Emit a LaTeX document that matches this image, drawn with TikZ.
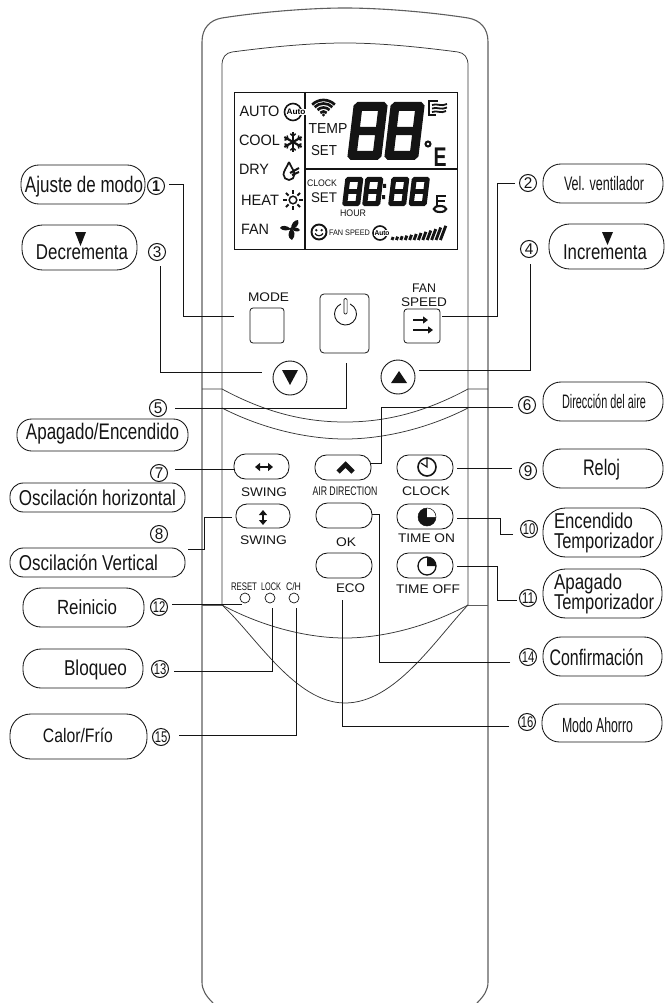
\documentclass[tikz,border=0pt]{standalone}
\usepackage{fontspec}
\setmainfont{Liberation Sans}
\usetikzlibrary{arrows.meta}
\definecolor{ink}{HTML}{141414}
\definecolor{shell}{HTML}{5E5E5E}
\newcommand\tw[3]{\resizebox{#2pt}{\height}{\fontsize{#1pt}{#1pt}\selectfont #3}}
\newcommand\lab[6]{\node[txt] (#1) at (#2,#3) {\tw{#4}{#5}{#6}};}
\newcommand\pill[5]{\pgfmathsetmacro\cx{(#2+#4)/2}\pgfmathsetmacro\cy{(#3+#5)/2}\pgfmathsetmacro\pw{#4-#2}\pgfmathsetmacro\ph{#5-#3}\pgfmathsetmacro\pr{\ph*0.46}\node[pill,minimum width=\pw pt,minimum height=\ph pt,rounded corners=\pr pt] (#1) at (\cx,\cy) {};}
\newcommand\segdigit[6]{\begin{scope}[shift={(#1,#2)},xslant=.12]
\pgfmathsetmacro\mi{#4/2}
\fill[ink,even odd rule] (#6,0)--(#3-#6,0)--(#3,#6)--(#3,#4-#6)--(#3-#6,#4)--(#6,#4)--(0,#4-#6)--(0,#6)--cycle
 (#5,#5)--(#3-#5,#5)--(#3-#5,\mi-#5*.45)--(#5,\mi-#5*.45)--cycle
 (#5,\mi+#5*.45)--(#3-#5,\mi+#5*.45)--(#3-#5,#4-#5)--(#5,#4-#5)--cycle;
\end{scope}}
\newcommand\autoicon[7]{\begin{scope}[shift={(#1,#2)},y=1pt]
\draw[ink,line width=1.6pt] (0,0) circle[radius=#3pt];
\node[fill=white,inner sep=0.2pt] (#5) at (#4,0) {\tw{#7}{#6}{\bfseries Auto}};
\end{scope}}
\tikzset{
 shellline/.style={draw=shell,line width=1.1pt},
 thinshell/.style={draw=ink!85,line width=0.75pt},
 wire/.style={draw=ink,line width=0.85pt},
 txt/.style={anchor=base,inner sep=0pt,outer sep=0pt,text=ink},
 pill/.style={draw=ink,line width=0.85pt,inner sep=0pt,outer sep=0pt,rectangle},
 numc/.style={draw=ink,circle,line width=1pt,minimum size=17pt,inner sep=0pt,outer sep=0pt,text=ink},
 keybtn/.style={draw=ink,line width=0.8pt,rounded corners=3pt,inner sep=0pt,outer sep=0pt,rectangle},
 roundbtn/.style={draw=ink,line width=0.9pt,circle,minimum size=34pt,inner sep=0pt,outer sep=0pt},
 led/.style={draw=ink,line width=0.7pt,circle,minimum size=10pt,inner sep=0pt,outer sep=0pt},
 lcd/.style={draw=ink,line width=0.9pt},
 solidtri/.style={fill=ink,draw=none},
}
\begin{document}
\begin{tikzpicture}[x=1pt,y=-1pt]
\useasboundingbox (0,0) rectangle (671,1003);
% --- body
\draw[shellline] (213,1003) .. controls (206,996) and (202,990) .. (202,982) -- (202,42)
 .. controls (202,28) and (210,20) .. (222,18) .. controls (260,12) and (310,8) .. (345,8)
 .. controls (380,8) and (430,12) .. (468,18) .. controls (480,20) and (488,28) .. (488,42)
 -- (488,982) .. controls (488,990) and (484,996) .. (477,1003);
\draw[thinshell] (222,605) -- (222,65) .. controls (222,57) and (226,53) .. (232,52)
 .. controls (270,47) and (310,43) .. (345,43) .. controls (380,43) and (420,47) .. (458,52)
 .. controls (464,53) and (468,57) .. (468,65) -- (468,605);
\draw[thinshell] (202,389) -- (222,389) .. controls (270,415) and (310,422) .. (345,422)
 .. controls (380,422) and (420,415) .. (468,389) -- (488,389);
\draw[thinshell] (222,408) .. controls (265,430) and (310,439) .. (345,439)
 .. controls (380,439) and (425,430) .. (468,408);
\draw[shellline] (202,605.5) -- (222,605.5) (468,605.5) -- (488,605.5);
\draw[thinshell] (222,605) .. controls (265,628) and (310,638) .. (345,638)
 .. controls (380,638) and (425,628) .. (468,605);
\draw[thinshell] (222,605) .. controls (255,635) and (295,703) .. (345,703)
 .. controls (395,703) and (435,640) .. (468,605);
% --- LCD
\draw[lcd] (234,92) rectangle (457,249);
\draw[lcd,line width=1.3pt] (305,92) -- (305,249) (305,169) -- (457,169);
\lab{tAuto}{259.5}{117}{15}{40}{AUTO}
\lab{tCool}{259.5}{146}{15}{41}{COOL}
\lab{tDry}{254}{175}{15}{30}{DRY}
\lab{tHeat}{260}{205}{15}{38}{HEAT}
\lab{tFan}{255}{234}{15}{28}{FAN}
\lab{tTemp}{328}{134}{14.5}{39}{TEMP}
\lab{tSet}{324}{156}{14.5}{26}{SET}
\lab{tSetb}{324}{203}{14}{26}{SET}
\lab{tClockb}{322}{186}{9.5}{30}{CLOCK}
\lab{tHour}{353}{216}{9.5}{26}{HOUR}
\lab{tFanSp}{349.5}{235}{8}{41}{FAN SPEED}
\lab{tE}{440}{167}{27}{13}{\bfseries E}
\segdigit{354}{102}{34}{58}{9}{3.5}
\segdigit{391}{102}{34}{58}{9}{3.5}
\draw[ink,line width=2pt] (428,144) circle[radius=2.5pt];
\segdigit{345.5}{177}{18}{29}{5}{2}
\segdigit{365.5}{177}{18}{29}{5}{2}
\fill[ink] (383,184) rectangle (386,188) (382,195) rectangle (385,199);
\segdigit{391.5}{177}{18}{29}{5}{2}
\segdigit{412}{177}{18}{29}{5}{2}
% wifi
\begin{scope}[shift={(323.5,116)},y=1pt]
\foreach \r in {4.5,8.5,12.5,16}{\draw[ink,line width=2.7pt] (45:\r) arc[start angle=45,end angle=135,radius=\r pt];}
\fill[ink] (0,1) circle[radius=1.6pt];
\end{scope}
% top-right icon
\draw[ink,line width=1.5pt] (438,101) -- (429,101) -- (429,115) -- (436,115);
\draw[ink,line width=1.8pt] (432,105) .. controls (437,103) and (441,107) .. (447,104)
 (432,108.5) .. controls (437,106.5) and (441,110.5) .. (447,107.5)
 (432,112) .. controls (437,110) and (441,114) .. (446,111);
% auto icons
\autoicon{293}{112}{8.5}{3}{iAuto}{19}{8}
\autoicon{380}{233}{7}{2}{iAutob}{15}{7}
% snowflake
\begin{scope}[shift={(293,142)},y=1pt]
\foreach \a in {30,90,...,330}{
 \draw[ink,line width=2.2pt] (0,0) -- (\a:10);
 \draw[ink,line width=1.5pt] (\a:6) -- ++(\a+50:3.5) (\a:6) -- ++(\a-50:3.5);
}
\end{scope}
% drop
\begin{scope}[shift={(289,174)},y=1pt]
\draw[ink,line width=1.7pt] (0,12) .. controls (-2,7) and (-5.5,3) .. (-5.5,-0.5)
 arc[start angle=180,end angle=360,radius=5.5pt] .. controls (5.5,3) and (2,7) .. (0,12);
\draw[ink,line width=2pt] (1,1) -- (10,6) (3,-1) -- (10,2);
\end{scope}
% sun
\begin{scope}[shift={(293,200)},y=1pt]
\draw[ink,line width=1.5pt] (0,0) circle[radius=3.8pt];
\foreach \a in {0,45,...,315}{\draw[ink,line width=1.8pt] (\a:6.2) -- (\a:10);}
\end{scope}
% fan
\begin{scope}[shift={(291,229)},y=1pt]
\fill[ink] (0,0) .. controls (0,5) and (3,9) .. (7,9) .. controls (9,5) and (5,0) .. (0,0);
\fill[ink] (0,0) .. controls (-4,4) and (-10,4) .. (-11,1) .. controls (-9,-2) and (-3,-2) .. (0,0);
\fill[ink] (0,0) .. controls (4,-1) and (5,-7) .. (1,-11) .. controls (-4,-9) and (-3,-3) .. (0,0);
\fill[ink] (0,0) .. controls (3,2) and (7,2) .. (9,-1) .. controls (7,-4) and (3,-2) .. (0,0);
\fill[ink] (0,0) circle[radius=1.6pt];
\end{scope}
% smiley
\begin{scope}[shift={(319,232)},y=1pt]
\draw[ink,line width=1.9pt] (0,0) circle[radius=7.5pt];
\fill[ink] (-2.7,1.8) circle[radius=1.3pt] (2.7,1.8) circle[radius=1.3pt];
\draw[ink,line width=1.2pt] (-4,-1.5) .. controls (-2,-4.5) and (2,-4.5) .. (4,-1.5);
\end{scope}
% speed bars
\foreach \i in {0,...,11}{
 \pgfmathsetmacro\bx{392+4.4*\i}\pgfmathsetmacro\bh{3+0.07*\i*\i+0.25*\i}
 \draw[ink,line width=2.9pt] (\bx,240) -- ({\bx+0.38*\bh},{240-\bh});
}
% key
\draw[ink,line width=2.1pt] (440,209) ellipse[x radius=6.2pt,y radius=3pt];
\draw[ink,line width=2.2pt] (437,195) -- (437,206) (437,196) -- (446,196) (437,201) -- (445,201);
% --- buttons
\lab{tMode}{268.5}{301}{12.5}{41}{MODE}
\node[keybtn,minimum width=34pt,minimum height=35pt] (bmode) at (267,325.5) {};
\node[keybtn,rounded corners=4pt,minimum width=49pt,minimum height=59pt] (bpower) at (344.5,323.5) {};
\begin{scope}[shift={(345.5,314)},y=1pt]
\draw[ink,line width=0.9pt] (65:11) arc[start angle=65,end angle=-245,radius=11pt];
\draw[ink,line width=0.7pt,fill=white,rounded corners=1.3pt] (-1.6,15.5) rectangle (1.6,0);
\end{scope}
\lab{tFanw}{424}{292}{12.5}{24}{FAN}
\lab{tSpeed}{424}{306}{12.5}{46}{SPEED}
\node[keybtn,minimum width=36pt,minimum height=34pt] (bfan) at (422,326) {};
\draw[ink,line width=2.2pt,-{Triangle[length=5pt,width=7pt]}] (413,320) -- (428,320);
\draw[ink,line width=2.2pt,-{Triangle[length=5pt,width=7pt]}] (413,330) -- (433,330);
\node[roundbtn] (bdown) at (290,378) {};
\node[roundbtn] (bup) at (398,377) {};
\fill[solidtri] (282,370) -- (298,370) -- (290,385) -- cycle;
\fill[solidtri] (391,383) -- (407,383) -- (399,371) -- cycle;
% pills of the keypad
\pill{bswingh}{234}{454}{289}{479}
\pill{bswingv}{236}{504}{290}{528}
\pill{bair}{315}{455}{371}{480}
\pill{bok}{316}{503}{372}{528}
\pill{beco}{316}{553}{372}{578}
\pill{bclock}{397}{455}{453}{480}
\pill{bton}{397}{504}{453}{529}
\pill{btoff}{397}{553}{453}{578}
\draw[ink,line width=2.6pt,{Triangle[length=5pt,width=8pt]}-{Triangle[length=5pt,width=8pt]}] (255,467) -- (273,467);
\draw[ink,line width=2.6pt,{Triangle[length=5pt,width=8pt]}-{Triangle[length=5pt,width=8pt]}] (263,510) -- (263,525);
\draw[ink,line width=4.6pt,line cap=butt,line join=miter] (338,472) -- (345.5,464.5) -- (353,472);
% clock
\begin{scope}[shift={(427,467)},y=1pt]
\draw[ink,line width=1.6pt] (0,0) circle[radius=9pt];
\draw[ink,line width=1.2pt] (0,8) -- (0,0) -- (-6,4);
\end{scope}
\begin{scope}[shift={(427,517)},y=1pt]
\fill[ink] (0,0) circle[radius=9pt];
\fill[white] (0,0) -- (9.2,0) arc[start angle=0,end angle=90,radius=9.2pt] -- cycle;
\draw[ink,line width=0.5pt] (0,0) circle[radius=9pt];
\end{scope}
\begin{scope}[shift={(427,566)},y=1pt]
\draw[ink,line width=1.3pt] (0,0) circle[radius=9pt];
\fill[ink] (0,0) -- (9,0) arc[start angle=0,end angle=90,radius=9pt] -- cycle;
\end{scope}
\lab{tSwinga}{264}{496}{12.5}{46}{SWING}
\lab{tSwingb}{263.5}{544}{12.5}{47}{SWING}
\lab{tAir}{345}{495}{12.5}{65}{AIR DIRECTION}
\lab{tOk}{346}{546}{12.5}{20}{OK}
\lab{tEco}{350.5}{592}{12.5}{29}{ECO}
\lab{tClock}{426}{495}{12.5}{48}{CLOCK}
\lab{tTon}{426.5}{542}{12.5}{57}{TIME ON}
\lab{tToff}{428}{593}{12.5}{64}{TIME OFF}
\lab{tRst}{244}{590}{11}{26}{RESET}
\lab{tLock}{271}{590}{11}{20}{LOCK}
\lab{tCh}{293.5}{590}{11}{15}{C/H}
\node[led] (brst) at (245,598) {};
\node[led] (block) at (270,598) {};
\node[led] (bch) at (294,598) {};
% --- label pills
\pill{pA}{21}{165}{145}{204}
\lab{lA}{84}{192}{22.5}{118}{Ajuste de modo}
\pill{pD}{22}{225}{137}{270}
\lab{lD}{82}{259}{21.5}{92}{Decrementa}
\fill[solidtri] (75,232) -- (86,232) -- (80.5,246) -- cycle;
\pill{pV}{543}{164}{663}{203}
\lab{lV}{604}{190}{19.5}{80}{Vel. ventilador}
\pill{pI}{549}{224}{664}{269}
\lab{lI}{605}{259}{21.5}{84}{Incrementa}
\fill[solidtri] (602,232) -- (613,232) -- (607.5,245) -- cycle;
\pill{pDa}{543}{382}{663}{421}
\lab{lDa}{604}{408}{19.5}{84}{Dirección del aire}
\pill{pAe}{17}{419}{188}{451}
\lab{lAe}{102.5}{439}{22.5}{153}{Apagado/Encendido}
\pill{pOh}{10}{483}{185}{512}
\lab{lOh}{97.5}{505}{21.5}{157}{Oscilación horizontal}
\pill{pOv}{10}{548}{185}{577}
\lab{lOv}{88.5}{570}{21.5}{139}{Oscilación Vertical}
\pill{pRe}{23}{588}{144}{627}
\lab{lRe}{87}{614}{20.5}{60}{Reinicio}
\pill{pBl}{23}{649}{143}{688}
\lab{lBl}{95.5}{675}{21.5}{63}{Bloqueo}
\pill{pCa}{10}{714}{147}{759}
\lab{lCa}{78}{742}{19.5}{70}{Calor/Frío}
\pill{pRl}{543}{449}{663}{488}
\lab{lRl}{601.5}{475}{22.5}{37}{Reloj}
\pill{pEn}{543}{508}{662}{557}
\lab{lEna}{593.5}{528}{21.5}{79}{Encendido}
\lab{lEnb}{604}{548}{21.5}{100}{Temporizador}
\pill{pAp}{543}{569}{662}{618}
\lab{lApa}{588}{589}{21.5}{68}{Apagado}
\lab{lApb}{604}{609}{21.5}{100}{Temporizador}
\pill{pCo}{543}{637}{662}{676}
\lab{lCo}{596.5}{665}{22.5}{94}{Confirmación}
\pill{pMo}{542}{704}{662}{742}
\lab{lMo}{597.5}{732}{20.5}{71}{Modo Ahorro}
% --- circled numbers
\node[numc] (n1) at (156,186) {\tw{15.5}{8}{\bfseries 1}};
\node[numc] (n2) at (528,183) {\tw{15.5}{8.5}{2}};
\node[numc] (n3) at (157,252) {\tw{15.5}{8.5}{3}};
\node[numc] (n4) at (529,249) {\tw{15.5}{8.5}{4}};
\node[numc] (n5) at (158,408) {\tw{15.5}{8.5}{5}};
\node[numc] (n6) at (527,405) {\tw{15.5}{8.5}{6}};
\node[numc] (n7) at (159,473) {\tw{15.5}{8.5}{7}};
\node[numc] (n8) at (159,534) {\tw{15.5}{8.5}{8}};
\node[numc] (n9) at (528,471) {\tw{15.5}{8.5}{9}};
\node[numc] (n10) at (529,529) {\tw{15.5}{12.5}{10}};
\node[numc] (n11) at (528,598) {\tw{15.5}{12.5}{11}};
\node[numc] (n12) at (159,607) {\tw{15.5}{12.5}{12}};
\node[numc] (n13) at (160,669) {\tw{15.5}{12.5}{13}};
\node[numc] (n14) at (528,657) {\tw{15.5}{12.5}{14}};
\node[numc] (n15) at (161,737) {\tw{15.5}{12.5}{15}};
\node[numc] (n16) at (527,722) {\tw{15.5}{12.5}{16}};
% --- connectors
\draw[wire] ([xshift=4.5pt,yshift=2pt]n1.east) -- (183,184) -- (183,316) -- ([xshift=-16pt,yshift=9.5pt]bmode.west);
\draw[wire] ([xshift=3pt,yshift=-5.5pt]n3.south) -- (160,372) -- ([xshift=-11pt,yshift=6pt]bdown.west);
\draw[wire] ([xshift=8.5pt]n5.east) -- (346,408) -- ([xshift=1.5pt,yshift=-10pt]bpower.south);
\draw[wire] ([xshift=7.5pt,yshift=4pt]n7.east) -- ([yshift=-2.5pt]bswingh.west);
\draw[wire] ([xshift=20.5pt,yshift=-15pt]n8.east) -- (204,549) -- (204,517) -- ([xshift=-4pt,yshift=-1pt]bswingv.west);
\draw[wire] ([xshift=4.5pt,yshift=3pt]n12.east) -- ([xshift=-3pt,yshift=-1pt]brst.south);
\draw[wire] ([xshift=5.5pt,yshift=-2pt]n13.east) -- (272,671) -- ([xshift=2pt,yshift=-5pt]block.south);
\draw[wire] ([xshift=9.5pt,yshift=2pt]n15.east) -- (296,735) -- ([xshift=2pt,yshift=-5pt]bch.south);
\draw[wire] ([xshift=-4.5pt]n2.west) -- (497,183) -- (497,316) -- ([xshift=2pt,yshift=10pt]bfan.east);
\draw[wire] ([xshift=1pt,yshift=-6.5pt]n4.south) -- (530,370) -- ([xshift=4pt,yshift=7pt]bup.east);
\draw[wire] ([xshift=-5.5pt,yshift=-2pt]n6.west) -- (381,407) -- (381,463) -- ([yshift=4.5pt]bair.east);
\draw[wire] ([xshift=-7.5pt,yshift=3pt]n9.west) -- ([xshift=4pt,yshift=-0.5pt]bclock.east);
\draw[wire] ([xshift=-7.5pt,yshift=-5pt]n10.west) -- (500,534) -- (500,518) -- ([xshift=4pt,yshift=-1.5pt]bton.east);
\draw[wire] ([xshift=-2.5pt,yshift=-2pt]n11.west) -- (497,600) -- (497,566) -- ([xshift=4pt,yshift=-0.5pt]btoff.east);
\draw[wire] ([xshift=-9.5pt,yshift=-5pt]n14.west) -- (379,662) -- (379,514) -- ([yshift=1.5pt]bok.east);
\draw[wire] ([xshift=-9.5pt,yshift=-4pt]n16.west) -- (342,726) -- ([xshift=-2pt,yshift=-22pt]beco.south);
\end{tikzpicture}
\end{document}
